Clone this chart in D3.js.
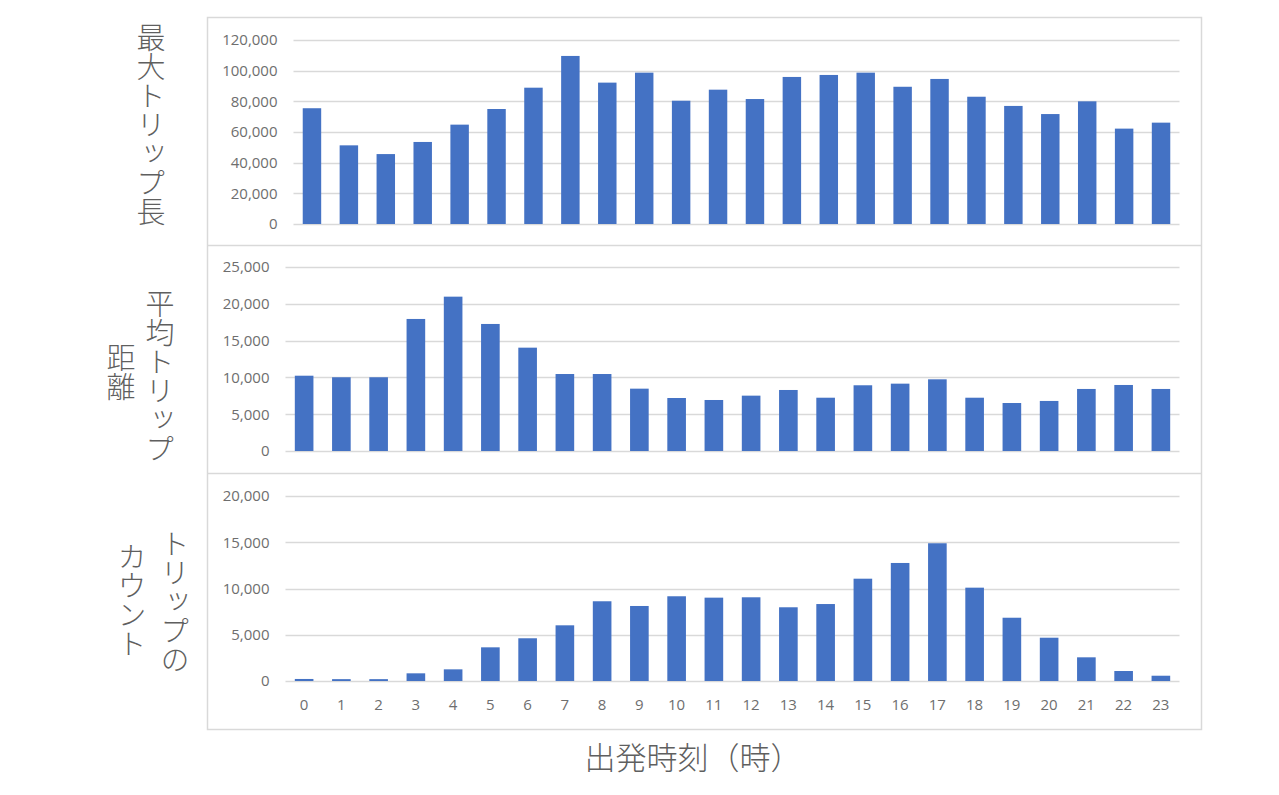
<!DOCTYPE html>
<html>
<head>
<meta charset="utf-8">
<script src="https://cdn.jsdelivr.net/npm/d3@7"></script>
<style>
  html, body { margin: 0; padding: 0; background: #fff; }
  svg { display: block; }
</style>
</head>
<body>
<svg id="chart" width="1279" height="795"></svg>
<script>
// ---- data ----
const hours = ["0","1","2","3","4","5","6","7","8","9","10","11","12","13","14","15","16","17","18","19","20","21","22","23"];
const maxTripLength = [75500, 51300, 45600, 53500, 64800, 75000, 88900, 109600, 92200, 98700, 80400, 87600,
                       81500, 95900, 97200, 98700, 89500, 94600, 83000, 77000, 71700, 80000, 62200, 66100];
const avgTripDistance = [10230, 10020, 10020, 17940, 20970, 17260, 14040, 10460, 10460, 8470, 7200, 6930,
                         7520, 8290, 7240, 8930, 9150, 9740, 7240, 6520, 6800, 8430, 8970, 8430];
const tripCount = [220, 200, 200, 830, 1260, 3640, 4620, 6020, 8620, 8110, 9160, 9010,
                   9050, 7970, 8320, 11060, 12760, 14890, 10090, 6840, 4680, 2560, 1080, 570];
const maxTicks = [0, 20000, 40000, 60000, 80000, 100000, 120000];
const avgTicks = [0, 5000, 10000, 15000, 20000, 25000];
const countTicks = [0, 5000, 10000, 15000, 20000];
const title1 = ["最大トリップ長"];
const title2 = ["平均トリップ", "距離"];
const title3 = ["トリップの", "カウント"];
const xTitle = "出発時刻（時）";

// ---- layout ----
const svg = d3.select("#chart");
const barColor = "#4472C4";
const gridColor = "#d9d9d9";
const textColor = "#6e6e6e";
const tickFont = "'Open Sans', 'Liberation Sans', sans-serif";
const cjkFont = "'Noto Sans CJK JP', 'Noto Sans CJK SC', sans-serif";

// outer frame and separators
svg.append("rect").attr("x", 207.5).attr("y", 17.5).attr("width", 994).attr("height", 712)
  .attr("fill", "none").attr("stroke", gridColor).attr("stroke-width", 1.5);
[245.5, 473.5].forEach(y => {
  svg.append("line").attr("x1", 207.5).attr("x2", 1201.5).attr("y1", y).attr("y2", y)
    .attr("stroke", gridColor).attr("stroke-width", 1.5);
});

const panels = [
  { values: maxTripLength, ticks: maxTicks, max: 120000, x0: 293.5, x1: 1179.5, yTop: 40, yBot: 224,
    titles: title1, titleX: [151], titleY: [125], showX: false },
  { values: avgTripDistance, ticks: avgTicks, max: 25000, x0: 285.5, x1: 1179.5, yTop: 267, yBot: 451,
    titles: title2, titleX: [160, 121], titleY: [376, 372], showX: false },
  { values: tripCount, ticks: countTicks, max: 20000, x0: 285.5, x1: 1179.5, yTop: 496, yBot: 681,
    titles: title3, titleX: [175, 132], titleY: [602, 600], showX: true }
];

panels.forEach(p => {
  const x = d3.scaleBand().domain(hours).range([p.x0, p.x1]).paddingInner(0.5).paddingOuter(0.25);
  const y = d3.scaleLinear().domain([0, p.max]).range([p.yBot, p.yTop]);
  const g = svg.append("g");

  // gridlines
  g.selectAll("line.grid").data(p.ticks).join("line")
    .attr("class", "grid")
    .attr("x1", p.x0).attr("x2", p.x1)
    .attr("y1", d => Math.round(y(d)) + 0.5).attr("y2", d => Math.round(y(d)) + 0.5)
    .attr("stroke", gridColor).attr("stroke-width", 1.6);

  // y axis labels
  const yAxis = d3.axisLeft(y).tickValues(p.ticks).tickSize(0).tickPadding(16)
    .tickFormat(d3.format(","));
  const ga = g.append("g").attr("transform", `translate(${p.x0},0)`).call(yAxis);
  ga.select(".domain").remove();
  ga.selectAll("text").attr("fill", textColor).style("font-family", tickFont).style("font-size", "15px");

  // bars
  g.selectAll("rect.bar").data(p.values).join("rect")
    .attr("class", "bar")
    .attr("x", (d, i) => x(hours[i]))
    .attr("width", x.bandwidth())
    .attr("y", d => y(d))
    .attr("height", d => y(0) - y(d))
    .attr("fill", barColor);

  // x axis
  if (p.showX) {
    const xAxis = d3.axisBottom(x).tickSize(0).tickPadding(18);
    const gx = g.append("g").attr("transform", `translate(0,${p.yBot})`).call(xAxis);
    gx.select(".domain").remove();
    gx.selectAll("text").attr("fill", textColor).style("font-family", tickFont).style("font-size", "15px");
  }

  // vertical titles
  p.titles.forEach((t, i) => {
    svg.append("text")
      .attr("x", p.titleX[i]).attr("y", p.titleY[i])
      .attr("text-anchor", "middle")
      .style("writing-mode", "vertical-rl")
      .style("font-family", cjkFont)
      .style("font-weight", 300)
      .style("font-size", "29px")
      .attr("fill", "#5f5f5f")
      .text(t);
  });
});

// x title
svg.append("text")
  .attr("x", 693).attr("y", 769)
  .attr("text-anchor", "middle")
  .style("font-family", cjkFont)
  .style("font-weight", 300)
  .style("font-size", "31px")
  .attr("fill", "#5f5f5f")
  .text(xTitle);
</script>
</body>
</html>
